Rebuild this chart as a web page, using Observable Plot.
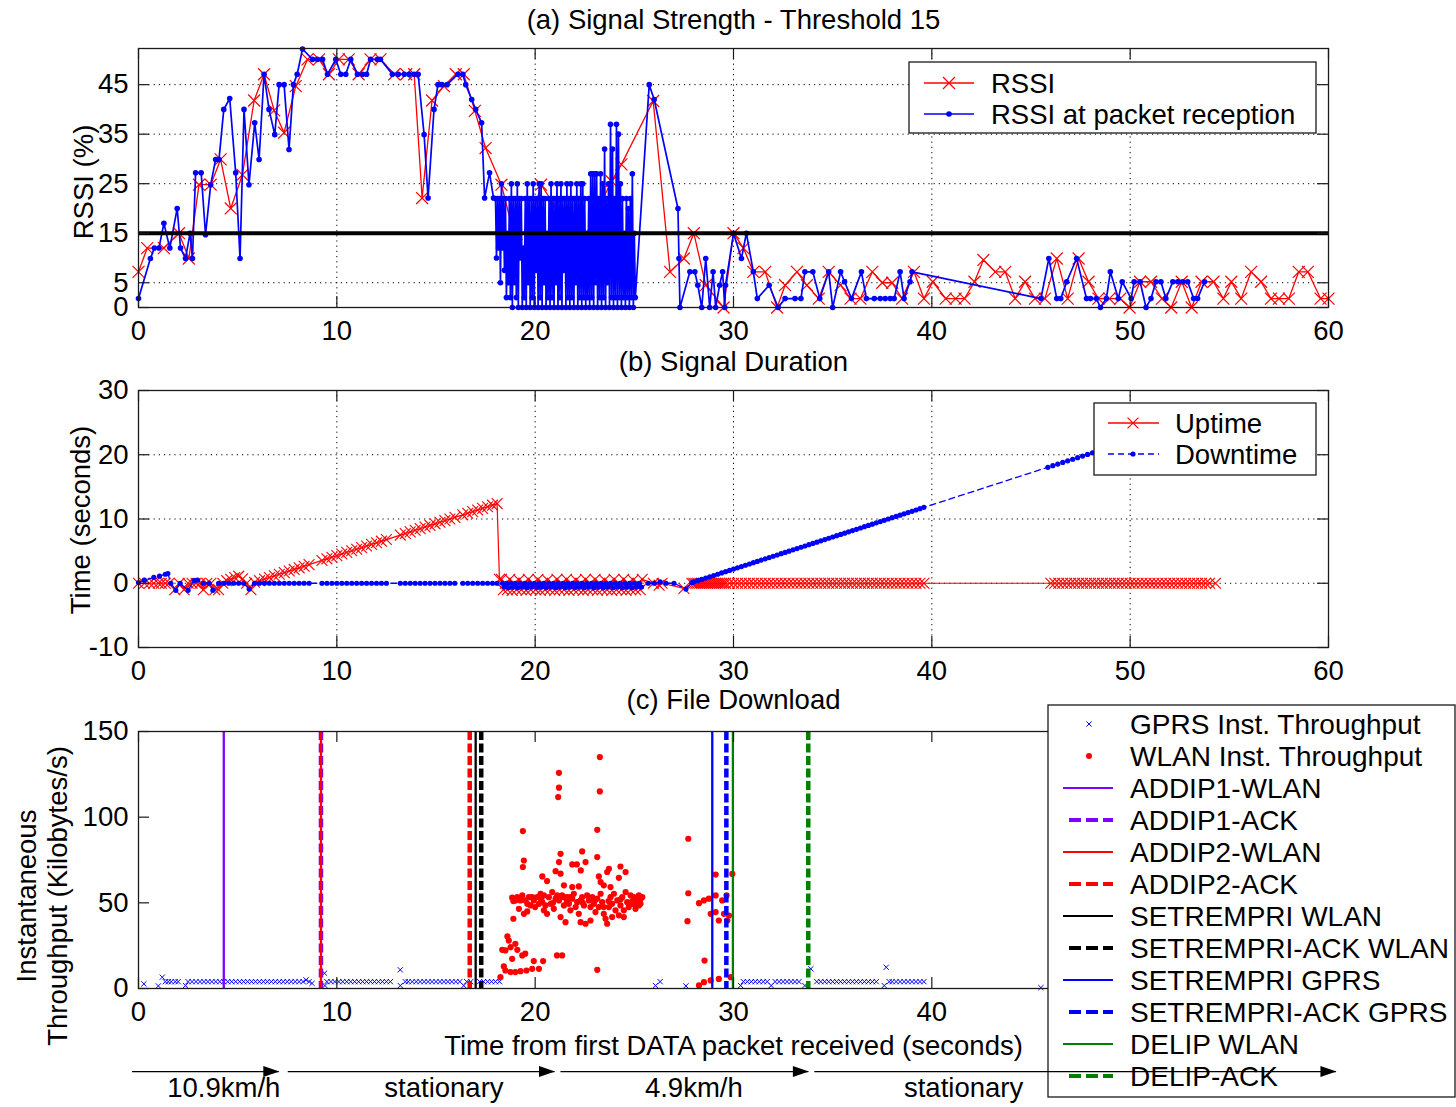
<!DOCTYPE html>
<html><head><meta charset="utf-8">
<script src="https://cdn.jsdelivr.net/npm/d3@7"></script>
<script src="https://cdn.jsdelivr.net/npm/@observablehq/plot@0.6"></script>
<style>
html,body{margin:0;padding:0;background:#fff;}
#root{position:relative;width:1456px;height:1107px;overflow:hidden;background:#fff;}
#root > svg{position:absolute;left:0;}
</style></head>
<body><div id="root"></div>
<script>
// ================= DATA =================
const xTicks = [0,10,20,30,40,50,60];
const cXLabels = [0,10,20,30,40];          // 50 and 60 sit under the legend
const gridX = [10,20,30,40,50];
const aYTicks = [0,5,15,25,35,45];
const aGridY = [5,15,25,35,45];
const bYTicks = [-10,0,10,20,30];
const bGridY = [0,10,20];
const cYTicks = [0,50,100,150];
const rssiThreshold = 15;

// (a) RSSI [time s, %]
const rssi = [[0,7.2],[0.44,12],[1.28,12],[2.04,15],[2.54,9.9],[3.05,24.8],[3.64,24.8],[4.14,29.9],[4.65,20],[5.24,26.8],[5.83,41.8],[6.33,47.1],[6.84,39.8],[7.34,35.3],[7.93,44.7],[8.52,50.1],[9.1,50.1],[9.6,47.1],[10.1,50.1],[10.6,50.1],[11.1,47.1],[11.7,50.1],[12.2,50.1],[12.9,47.1],[13.5,47.1],[13.9,47.1],[14.3,22.1],[14.8,41.8],[15.4,44.7],[16.0,47.1],[16.4,47.1],[16.96,39.7],[17.5,32.2],[18.3,24.8],[19.06,12.6],[19.4,11.5],[20.3,24.8],[20.99,20.5],[21.6,16.9],[22.4,13.2],[23.1,19.4],[23.85,25.5],[24.35,28.9],[25.95,41.7],[26.8,7.2],[27.5,9.9],[28.0,15],[28.6,4.5],[29.5,0],[30.0,15],[30.5,12],[31.0,7.2],[31.6,7.2],[32.2,0],[32.6,4.5],[33.2,7.2],[33.7,4.5],[34.3,1.8],[34.8,7.2],[35.4,4.5],[35.9,1.8],[36.4,1.8],[37.0,7.2],[37.5,5],[38.0,5],[38.5,1.8],[39.1,7.2],[39.6,1.8],[40.05,5.2],[40.7,1.8],[41.2,1.8],[41.65,1.8],[42.15,5.2],[42.6,9.6],[43.2,7.2],[43.7,7.2],[44.2,1.8],[44.7,5.2],[45.2,1.8],[45.7,1.8],[46.3,9.9],[46.85,1.8],[47.4,9.9],[47.9,5.2],[48.4,1.8],[48.95,1.8],[49.5,1.8],[49.97,0],[50.5,5.2],[51.05,5.2],[51.6,1.8],[52.07,0],[52.6,5.2],[53.1,0],[53.6,5.2],[54.2,5.2],[54.7,1.8],[55.1,5.2],[55.6,1.8],[56.1,7.2],[56.6,5.2],[57.1,1.8],[57.5,1.8],[58.0,1.8],[58.5,7.2],[58.96,7.2],[59.6,1.8],[60.0,1.8]];

// (a) RSSI at packet reception [time s, %]
const rssiRx = [[0,1.8],[0.6,9.9],[0.8,12],[1.03,12],[1.28,17],[1.58,12],[1.95,20],[2.12,12],[2.37,9.9],[2.6,15],[2.72,9.9],[2.88,27.2],[3.16,27.2],[3.38,14.7],[3.64,24.8],[3.89,29.9],[4.06,29.9],[4.3,40],[4.6,42.2],[4.9,27.2],[5.12,9.9],[5.32,40],[5.57,24.8],[5.86,37.3],[6.08,29.9],[6.33,47.1],[6.58,40],[6.87,34.9],[7.09,45],[7.34,45],[7.59,31.9],[7.81,45],[8.0,47.1],[8.27,52.2],[8.77,50.1],[9.02,50.1],[9.28,50.1],[9.53,47.1],[9.95,50.1],[10.2,47.1],[10.45,47.1],[10.7,50.1],[11.04,47.1],[11.3,47.1],[11.5,47.1],[11.7,50.1],[12.05,50.1],[12.2,50.1],[12.8,47.1],[13.1,47.1],[13.4,47.1],[13.65,47.1],[13.9,47.1],[14.1,47.1],[14.4,34.9],[14.6,22.1],[14.9,40],[15.1,45],[15.3,45],[15.56,45],[16.1,47.1],[16.35,47.1],[16.5,45],[16.8,42],[17.0,40],[17.3,37.3],[17.45,22.1],[17.7,27.2],[17.9,22.1],
[18.0,22],[18.05,10],[18.1,22],[18.15,12],[18.2,22],[18.25,5],[18.3,25],[18.35,12],[18.4,22],[18.45,7.5],[18.5,22],[18.55,2],[18.6,15],[18.65,5],[18.7,22],[18.75,2],[18.8,25],[18.85,0],[18.9,22],[18.95,5],[19.0,22],[19.05,2],[19.1,25],[19.15,0],[19.2,22],[19.25,10],[19.3,22],[19.35,0],[19.4,12],[19.45,2],[19.5,22],[19.55,0],[19.6,25],[19.65,5],[19.7,22],[19.75,0],[19.8,22],[19.85,2],[19.9,25],[19.95,0],[20.0,22],[20.05,7.5],[20.1,22],[20.15,0],[20.2,25],[20.25,2],[20.3,25],[20.35,0],[20.4,22],[20.45,5],[20.5,22],[20.55,0],[20.6,15],[20.65,2],[20.7,22],[20.75,0],[20.8,25],[20.85,2],[20.9,22],[20.95,0],[21.0,22],[21.05,5],[21.1,25],[21.15,0],[21.2,22],[21.25,2],[21.3,25],[21.35,0],[21.4,22],[21.45,7.5],[21.5,22],[21.55,0],[21.6,25],[21.65,2],[21.7,22],[21.75,0],[21.8,25],[21.85,2],[21.9,22],[21.95,0],[22.0,22],[22.05,5],[22.1,25],[22.15,0],[22.2,22],[22.25,2],[22.3,25],[22.35,0],[22.4,25],[22.45,2],[22.5,22],[22.55,0],[22.6,15],[22.65,2],[22.7,22],[22.75,0],[22.8,27],[22.85,2],[22.9,27],[22.95,0],[23.0,27],[23.05,5],[23.1,27],[23.15,0],[23.2,22],[23.25,2],[23.3,27],[23.35,0],[23.4,25],[23.45,2],[23.5,32],[23.55,0],[23.6,22],[23.65,5],[23.7,25],[23.75,0],[23.8,37],[23.85,2],[23.9,32],[23.95,0],[24.0,22],[24.05,2],[24.1,37],[24.15,0],[24.2,35],[24.25,2],[24.3,25],[24.35,0],[24.4,22],[24.45,2],[24.5,15],[24.55,0],[24.6,22],[24.65,2],[24.7,20],[24.75,0],[24.8,22],[24.85,2],[24.9,27],[24.95,0],[25.0,15],[25.05,2],
[25.75,45],[26.0,42],[27.2,20],[27.25,9.9],[27.3,0],[27.8,7.2],[28.05,7.2],[28.2,4.5],[28.4,0],[28.6,9.9],[28.8,0],[28.97,7.2],[29.1,0],[29.3,4.5],[29.45,7.2],[29.56,0],[29.6,4.5],[30.0,15],[30.4,9.9],[30.65,15],[31.0,7.2],[31.2,1.8],[31.8,4.5],[32.25,0],[32.6,1.8],[33.1,1.8],[33.4,1.8],[33.6,7.2],[34.0,7.2],[34.35,1.8],[34.8,7.2],[35.0,0],[35.4,7.2],[35.6,5.2],[35.95,1.8],[36.45,7.2],[36.7,1.8],[37.1,1.8],[37.4,1.8],[37.65,1.8],[37.9,1.8],[38.1,1.8],[38.4,7.2],[38.6,1.8],[38.9,5.2],[39.0,7.2],[45.5,1.8],[45.9,9.9],[46.3,1.8],[46.5,1.8],[46.8,5.2],[47.3,9.9],[47.8,1.8],[48.0,1.8],[48.3,1.8],[48.5,0],[48.8,1.8],[49.0,7.2],[49.4,1.8],[49.6,5.2],[50.05,1.8],[50.2,5.2],[50.5,5.2],[50.8,0],[51.05,1.8],[51.3,5.2],[51.55,5.2],[51.8,1.8],[52.15,5.2],[52.4,5.2],[52.65,5.2],[52.9,5.2],[53.2,1.8],[53.4,1.8],[53.75,5.2]];

// (b) Uptime [time s, seconds]
const uptime = [[0,0],[0.3,0],[0.55,0],[0.77,0],[1.0,0],[1.15,0],[1.35,0],[1.54,0],[1.83,-1],[2.05,0],[2.3,-1],[2.5,0],[2.7,0],[2.9,0],[3.1,0],[3.27,-1],[3.45,0],[3.65,0],[3.85,-1],[4.04,-1],[4.25,0],[4.45,0.4],[4.65,0.6],[4.85,0.9],[5.05,1.1],[5.25,0.7],[5.45,0],[5.67,-1],
[5.85,0.15],[6.1,0.4],[6.35,0.65],[6.6,0.9],[6.85,1.15],[7.1,1.4],[7.35,1.65],[7.6,1.9],[7.85,2.15],[8.1,2.4],[8.35,2.65],[8.6,2.9],[9.25,3.55],[9.5,3.8],[9.75,4.05],[10.0,4.3],[10.25,4.55],[10.5,4.8],[10.75,5.05],[11.0,5.3],[11.25,5.55],[11.5,5.8],[11.75,6.05],[12.0,6.3],[12.25,6.55],[12.5,6.8],[13.2,7.5],[13.45,7.75],[13.7,8.0],[13.95,8.25],[14.2,8.5],[14.45,8.75],[14.7,9.0],[14.95,9.25],[15.2,9.5],[15.45,9.75],[15.7,10.0],[15.95,10.25],[16.35,10.65],[16.6,10.9],[16.85,11.15],[17.1,11.4],[17.35,11.65],[17.6,11.9],[17.85,12.15],[18.08,12.4],[18.2,0.6],
[18.3,0.6],[18.4,-1],[18.5,0],[18.6,-1],[18.72,0.6],[18.84,-1.1],[18.95,0],[19.06,-1],[19.18,0.5],[19.3,-1],[19.42,0],[19.54,-1.1],[19.66,0.6],[19.78,-1],[19.9,0],[20.02,-1],[20.14,0.6],[20.26,-1.1],[20.38,0],[20.5,-1],[20.62,0.5],[20.74,-1],[20.86,0],[20.98,-1.1],[21.1,0.6],[21.22,-1],[21.34,0],[21.46,-1],[21.58,0.6],[21.7,-1.1],[21.82,0],[21.94,-1],[22.06,0.5],[22.18,-1],[22.3,0],[22.42,-1.1],[22.54,0.6],[22.66,-1],[22.78,0],[22.9,-1],[23.02,0.6],[23.14,-1.1],[23.26,0],[23.38,-1],[23.5,0.5],[23.62,-1],[23.74,0],[23.86,-1.1],[23.98,0.6],[24.1,-1],[24.22,0],[24.34,-1],[24.46,0.6],[24.58,-1.1],[24.7,0],[24.82,-1],[24.94,0.5],[25.06,-1],[25.18,0],[25.3,-1],[25.4,0.6],
[25.96,0],[26.25,-0.3],[26.4,0],[27.5,-0.8],[27.9,0],[28.0,0],[28.1,0],[28.2,0],[28.3,0],[28.4,0],[28.5,0],[28.6,0],[28.7,0],[28.8,0],[28.9,0],[29.0,0],[29.1,0],[29.2,0],[29.3,0],[29.4,0],[29.5,0],[29.6,0],[29.8,0],[30.0,0],[30.2,0],[30.4,0],[30.6,0],[30.8,0],[31.0,0],[31.2,0],[31.4,0],[31.6,0],[31.8,0],[32.0,0],[32.2,0],[32.4,0],[32.6,0],[32.8,0],[33.0,0],[33.2,0],[33.4,0],[33.6,0],[33.8,0],[34.0,0],[34.2,0],[34.4,0],[34.6,0],[34.8,0],[35.0,0],[35.2,0],[35.4,0],[35.6,0],[35.8,0],[36.0,0],[36.2,0],[36.4,0],[36.6,0],[36.8,0],[37.0,0],[37.2,0],[37.4,0],[37.6,0],[37.8,0],[38.0,0],[38.2,0],[38.4,0],[38.6,0],[38.8,0],[39.0,0],[39.2,0],[39.4,0],[39.6,0],
[46.0,0],[46.2,0],[46.4,0],[46.6,0],[46.8,0],[47.0,0],[47.2,0],[47.4,0],[47.6,0],[47.8,0],[48.0,0],[48.2,0],[48.4,0],[48.6,0],[48.8,0],[49.0,0],[49.2,0],[49.4,0],[49.6,0],[49.8,0],[50.0,0],[50.2,0],[50.4,0],[50.6,0],[50.8,0],[51.0,0],[51.2,0],[51.4,0],[51.6,0],[51.8,0],[52.0,0],[52.2,0],[52.4,0],[52.6,0],[52.8,0],[53.0,0],[53.2,0],[53.4,0],[53.6,0],[53.8,0],[54.0,0],[54.3,0]];

// (b) Downtime [time s, seconds]
const downtime = [[0,0.1],[0.3,0.5],[0.77,0.9],[1.06,1.1],[1.35,1.4],[1.48,1.5],[1.63,0],[1.88,-1.1],[2.1,0],[2.5,-1.1],[2.8,0.4],[2.98,0.5],[3.27,0],[3.56,0],[3.75,-1.1],[4.04,0],[4.3,0],[4.55,0],[4.8,0],[5.05,0],[5.3,0],[5.58,-0.9],[5.85,0],[6.1,0],[6.35,0],[6.6,0],[6.85,0],[7.1,0],[7.35,0],[7.6,0],[7.85,0],[8.1,0],[8.35,0],[8.6,0],[9.25,0],[9.5,0],[9.75,0],[10.0,0],[10.25,0],[10.5,0],[10.75,0],[11.0,0],[11.25,0],[11.5,0],[11.75,0],[12.0,0],[12.25,0],[12.5,0],[13.2,0],[13.45,0],[13.7,0],[13.95,0],[14.2,0],[14.45,0],[14.7,0],[14.95,0],[15.2,0],[15.45,0],[15.7,0],[15.95,0],[16.35,0],[16.6,0],[16.85,0],[17.1,0],[17.35,0],[17.6,0],[17.85,0],[18.08,0],
[18.35,0],[18.45,-0.6],[18.56,0],[18.66,-0.7],[18.78,0],[18.9,-0.6],[19.0,0],[19.12,-0.7],[19.24,0],[19.36,-0.6],[19.48,0],[19.6,-0.7],[19.72,0],[19.84,-0.6],[19.96,0],[20.08,-0.7],[20.2,0],[20.32,-0.6],[20.44,0],[20.56,-0.7],[20.68,0],[20.8,-0.6],[20.92,0],[21.04,-0.7],[21.16,0],[21.28,-0.6],[21.4,0],[21.52,-0.7],[21.64,0],[21.76,-0.6],[21.88,0],[22.0,-0.7],[22.12,0],[22.24,-0.6],[22.36,0],[22.48,-0.7],[22.6,0],[22.72,-0.6],[22.84,0],[22.96,-0.7],[23.08,0],[23.2,-0.6],[23.32,0],[23.44,-0.7],[23.56,0],[23.68,-0.6],[23.8,0],[23.92,-0.7],[24.04,0],[24.16,-0.6],[24.28,0],[24.4,-0.7],[24.52,0],[24.64,-0.6],[24.76,0],[24.88,-0.7],[25.0,0],[25.12,-0.6],[25.24,0],[25.36,-0.6],
[25.7,0],[26.0,0],[26.3,0.2],[26.6,0],[27.0,0],[27.6,-0.9],[27.9,0.1],
[28.0,0.2],[28.2,0.4],[28.4,0.6],[28.6,0.8],[28.8,1.0],[29.0,1.2],[29.2,1.4],[29.4,1.6],[29.6,1.8],[29.8,2.0],[30.0,2.2],[30.2,2.4],[30.4,2.6],[30.6,2.8],[30.8,3.0],[31.0,3.2],[31.2,3.4],[31.4,3.6],[31.6,3.8],[31.8,4.0],[32.0,4.2],[32.2,4.4],[32.4,4.6],[32.6,4.8],[32.8,5.0],[33.0,5.2],[33.2,5.4],[33.4,5.6],[33.6,5.8],[33.8,6.0],[34.0,6.2],[34.2,6.4],[34.4,6.6],[34.6,6.8],[34.8,7.0],[35.0,7.2],[35.2,7.4],[35.4,7.6],[35.6,7.8],[35.8,8.0],[36.0,8.2],[36.2,8.4],[36.4,8.6],[36.6,8.8],[36.8,9.0],[37.0,9.2],[37.2,9.4],[37.4,9.6],[37.6,9.8],[37.8,10.0],[38.0,10.2],[38.2,10.4],[38.4,10.6],[38.6,10.8],[38.8,11.0],[39.0,11.2],[39.2,11.4],[39.4,11.6],[39.6,11.8],
[45.85,18.05],[46.1,18.3],[46.35,18.55],[46.6,18.8],[46.85,19.05],[47.1,19.3],[47.35,19.55],[47.6,19.8],[47.85,20.05],[48.1,20.3],[48.3,20.5]];

// (c) GPRS instantaneous throughput [time s, KB/s]
const gprs = [[0.27,2.7],[1.0,1.5],[1.2,6.6],[1.35,4],[1.5,4],[1.65,4],[1.85,4],[2.0,4],[2.37,1.7],[2.5,4],[2.7,4],[2.9,4],[3.1,4],[3.3,4],[3.5,4],[3.7,4],[3.9,4],[4.1,4],[4.3,4],[4.5,4],[4.7,4],[4.9,4],[5.1,4],[5.3,4],[5.5,4],[5.7,4],[5.9,4],[6.1,4],[6.3,4],[6.5,4],[6.7,4],[6.9,4],[7.1,4],[7.3,4],[7.5,4],[7.7,4],[7.9,4],[8.1,4],[8.3,4],[8.45,5],[8.6,4],[8.75,3],[9.38,8.9],[9.4,1.7],[9.5,4],[9.7,4],[9.9,4],[10.1,4],[10.3,4],[10.5,4],[10.7,4],[10.9,4],[11.1,4],[11.3,4],[11.5,4],[11.7,4],[11.9,4],[12.1,4],[12.3,4],[12.5,4],[12.7,4],[13.2,10.9],[13.2,1.7],[13.45,4],[13.6,4],[13.8,4],[14.0,4],[14.2,4],[14.4,4],[14.6,4],[14.8,4],[15.0,4],[15.2,4],[15.4,4],[15.6,4],[15.8,4],[16.0,4],[16.2,4],[16.4,1.7],[16.55,4],[16.75,4],[17.2,4],[17.4,4],[17.6,4],[17.8,4],[18.0,4],[18.2,4],[26.07,1.7],[26.3,4],[27.6,1.5],[30.36,1.7],[30.5,4],[30.7,4],[30.9,4],[31.1,4],[31.3,4],[31.5,4],[31.7,4],[31.9,1.7],[32.1,4],[32.3,4],[32.5,4],[32.7,4],[32.9,4],[33.1,4],[33.3,4],[33.6,1.7],[33.9,11.5],[34.2,4],[34.4,4],[34.6,4],[34.8,4],[35.0,4],[35.2,4],[35.4,4],[35.6,4],[35.8,4],[36.0,4],[36.2,4],[36.4,4],[36.6,4],[36.8,4],[37.0,4],[37.2,4],[37.6,1.7],[37.7,12.4],[37.85,4],[38.0,4],[38.2,4],[38.4,4],[38.6,4],[38.8,4],[39.0,4],[39.2,4],[39.4,4],[39.6,4],[45.5,0.5]];

// (c) WLAN instantaneous throughput [time s, KB/s]
const wlan = [[18.25,6.6],[18.42,12.9],[18.5,10.5],[18.76,9.6],[19.0,9.6],[19.26,10.1],[19.56,10.5],[19.85,11.5],[20.19,11.5],[18.84,17.3],[18.34,22.6],[18.5,22.2],[18.76,24.1],[18.6,30.4],[18.67,28.0],[19.0,26.1],[19.1,22.6],[19.35,19.3],[19.5,20.3],[19.93,16.0],[20.4,16.0],[21.1,19.3],[21.36,19.3],[23.13,10.9],
[23.26,135.1],[21.2,125.9],[21.2,117.2],[21.16,111.7],[23.26,115.0],[19.38,91.9],[23.13,92.6],[21.28,78.6],[22.37,80.0],[19.43,74.7],[19.38,70.9],[21.2,73.8],[23.13,76.7],[22.54,73.8],[21.87,72.4],[22.1,72.4],[21.03,68.5],[21.28,67.0],[22.3,68.9],[20.36,65.4],[20.6,62.7],[21.45,60.2],[23.72,69.9],[23.63,68.0],[24.3,71.2],[24.56,68.0],[24.22,64.6],[23.21,65.4],[23.3,62.1],[23.46,60.2],[23.8,59.2],[21.87,59.2],[22.2,59.6],
[18.84,53],[19.1,53.3],[18.9,40.7],[19.35,54.3],[19.43,43.6],[19.18,46.5],[19.68,53.3],[19.77,48.5],[19.6,49.4],[19.93,51.4],[20.1,53.3],[20.0,47.5],[20.27,55.3],[20.36,50.4],[20.44,45.6],[20.52,48.5],[20.69,53.3],[20.78,49.4],[20.6,43.6],[20.86,56.3],[20.94,46.5],[21.03,52.4],[21.2,51.4],[21.28,41.7],[21.36,54.3],[21.45,48.5],[21.53,38.7],[21.62,53.3],[21.7,49.4],[21.78,45.6],[21.87,52.4],[21.95,55.3],[22.04,47.5],[22.12,50.4],[22.2,43.6],[22.29,38.7],[22.37,53.3],[22.46,48.5],[22.54,37.8],[22.62,54.3],[22.71,51.4],[22.79,47.5],[22.88,53.3],[22.96,49.4],[23.04,44.6],[23.13,52.4],[23.21,47.5],[23.3,55.3],[23.38,50.4],[23.46,43.6],[23.55,40.7],[23.63,37.8],[23.72,47.5],[23.8,53.3],[23.88,49.4],[23.97,55.3],[24.05,45.6],[24.14,51.4],[24.22,42.7],[24.3,48.5],[24.39,53.3],[24.47,45.6],[24.56,56.3],[24.64,50.4],[24.72,47.5],[24.81,54.3],[24.89,49.4],[24.98,53.3],[25.06,46.5],[25.14,51.4],[25.23,54.3],[25.31,49.4],[25.4,53.3],[25.23,48.5],[24.98,49.4],[24.47,41.7],[23.88,41.7],[23.46,47.5],[22.79,39.7],[22.29,51.4],[21.78,53.3],[21.45,53.3],[21.11,54.3],[20.44,54.3],[20.19,49.4],[19.85,53.3],[19.51,51.4],[19.26,51.4],[19.01,51.4],[18.9,51],[19.6,45],[20.3,52],[20.9,50],[21.6,51],[22.4,50],[23.0,51],[23.7,51],[24.3,52],[24.9,51],[25.3,52],
[27.72,87.4],[27.72,55.6],[27.68,39.3],[28.26,49.8],[28.51,51.4],[28.76,52.4],[29.1,66.5],[29.1,54.3],[28.85,43.6],[29.1,44.6],[29.26,39.7],[29.43,51.4],[29.65,54.3],[29.52,43.6],[29.69,39.7],[29.94,66.9],[29.77,42.6],[28.54,16.3],[28.26,1.8],[28.51,3.7],[28.85,4.7],[29.26,5.6],[29.86,6.6]];

// (c) signalling events [time s]
const eventNames = ["ADDIP1-WLAN","ADDIP1-ACK","ADDIP2-WLAN","ADDIP2-ACK","SETREMPRI WLAN","SETREMPRI-ACK WLAN","SETREMPRI GPRS","SETREMPRI-ACK GPRS","DELIP WLAN","DELIP-ACK"];
const eventTimes = [4.3, 9.2, 9.2, 16.7, 17.0, 17.28, 28.93, 29.64, 29.97, 33.77];

// mobility phases [time s]
const phaseLabels = ["10.9km/h","stationary","4.9km/h","stationary"];
const phaseStart = [-0.3, 7.55, 21.3, 34.1];
const phaseEnd = [7.1, 21.0, 33.8, 60.4];
const phaseLabelAt = [4.3, 15.4, 28.0, 41.6];

// ================= STYLE / LAYOUT =================
const FONT = '"Liberation Sans", Arial, Helvetica, sans-serif';
const FS = 27.5;
const AX = "#1a1a1a";
const W = 1456, ML = 138, MR = 128, PW = W - ML - MR;
const PURPLE = "#8000ff", GREEN = "#008000";
const eventStyle = [
  {color: PURPLE, dashed: false}, {color: PURPLE, dashed: true},
  {color: "red", dashed: false}, {color: "red", dashed: true},
  {color: "black", dashed: false}, {color: "black", dashed: true},
  {color: "blue", dashed: false}, {color: "blue", dashed: true},
  {color: GREEN, dashed: false}, {color: GREEN, dashed: true}
];
const baseStyle = {fontFamily: FONT, fontSize: FS + "px", color: "#000", background: "transparent", overflow: "visible"};
const fmt = d => String(d);

function boxMarks(xt, yt, ph, xl = xt, len = 11) {
  return [
    Plot.tickX(xt, {x: d => d, insetTop: ph - len, stroke: AX, strokeWidth: 1.2}),
    Plot.tickX(xt, {x: d => d, insetBottom: ph - len, stroke: AX, strokeWidth: 1.2}),
    Plot.tickY(yt, {y: d => d, insetRight: PW - len, stroke: AX, strokeWidth: 1.2}),
    Plot.tickY(yt, {y: d => d, insetLeft: PW - len, stroke: AX, strokeWidth: 1.2}),
    Plot.frame({stroke: AX, strokeWidth: 1.3}),
    Plot.axisX(xl, {tickSize: 0, tickPadding: 13, tickFormat: fmt, label: null}),
    Plot.axisY(yt, {tickSize: 0, tickPadding: 10, tickFormat: fmt, label: null})
  ];
}
const title = (t, dy) => Plot.text([t], {text: d => d, frameAnchor: "top", dy, lineAnchor: "middle", textAnchor: "middle"});
const ylab = (t, dx, dy) => Plot.text([t], {text: d => d, frameAnchor: "left", rotate: -90, dx, dy, lineAnchor: "middle", textAnchor: "middle"});

function drawLegend(svg, box, o, items) {
  const g = d3.select(svg).append("g");
  g.append("rect").attr("x", box.x).attr("y", box.y).attr("width", box.w).attr("height", box.h)
    .attr("fill", "#fff").attr("stroke", AX).attr("stroke-width", 1.3);
  items.forEach((it, i) => {
    const cy = box.y + o.row0 + i * o.gap;
    if (it.line) {
      g.append("line").attr("x1", box.x + (it.thick ? o.dx1 : o.x1)).attr("x2", box.x + o.x2)
        .attr("y1", cy).attr("y2", cy).attr("stroke", it.color).attr("stroke-width", it.width)
        .attr("stroke-dasharray", it.dash || null);
    }
    if (it.marker) {
      const sym = it.marker === "x" ? d3.symbolTimes : d3.symbolCircle;
      const p = g.append("path").attr("transform", `translate(${box.x + o.mx},${cy})`)
        .attr("d", d3.symbol(sym, Math.PI * it.r * it.r)());
      if (it.marker === "x") p.attr("fill", "none").attr("stroke", it.color).attr("stroke-width", it.sw || 1.2);
      else p.attr("fill", it.color);
    }
    g.append("text").attr("x", box.x + o.tx).attr("y", cy).attr("dy", "0.36em")
      .attr("text-anchor", "start").attr("font-size", o.fs).attr("fill", "#000")
      .attr("font-family", FONT).text(it.label);
  });
}

const root = document.getElementById("root");

// ---------- Panel (a) ----------
{
  const H = 345, MT = 48, MB = 38, PH = H - MT - MB;
  const svg = Plot.plot({
    width: W, height: H, marginLeft: ML, marginRight: MR, marginTop: MT, marginBottom: MB,
    x: {domain: [0, 60]}, y: {domain: [0, 52.3]},
    style: baseStyle,
    marks: [
      Plot.ruleX(gridX, {x: d => d, stroke: "#000", strokeWidth: 1, strokeDasharray: "1.2,4"}),
      Plot.ruleY(aGridY, {y: d => d, stroke: "#000", strokeWidth: 1, strokeDasharray: "1.2,4"}),
      Plot.line(rssi, {x: d => d[0], y: d => d[1], stroke: "red", strokeWidth: 1.3}),
      Plot.dot(rssi, {x: d => d[0], y: d => d[1], symbol: "times", r: 5.5, stroke: "red", strokeWidth: 1.2, fill: "none"}),
      Plot.line(rssiRx, {x: d => d[0], y: d => d[1], stroke: "blue", strokeWidth: 1.7}),
      Plot.dot(rssiRx, {x: d => d[0], y: d => d[1], r: 2.8, fill: "blue"}),
      Plot.ruleY([rssiThreshold], {y: d => d, stroke: "#000", strokeWidth: 4}),
      ...boxMarks(xTicks, aYTicks, PH),
      title("(a) Signal Strength - Threshold 15", -28),
      ylab("RSSI (%)", -54, 4)
    ]
  });
  drawLegend(svg, {x: 909, y: 62, w: 407, h: 71}, {row0: 21, gap: 31, x1: 15, dx1: 15, x2: 65, mx: 40, tx: 82, fs: FS}, [
    {label: "RSSI", line: true, color: "red", width: 1.3, marker: "x", r: 5.5},
    {label: "RSSI at packet reception", line: true, color: "blue", width: 1.5, marker: "dot", r: 2.8}
  ]);
  svg.style.top = "0px";
  root.appendChild(svg);
}

// ---------- Panel (b) ----------
{
  const TOP = 345, H = 340, MT = 45, MB = 38, PH = H - MT - MB;
  const svg = Plot.plot({
    width: W, height: H, marginLeft: ML, marginRight: MR, marginTop: MT, marginBottom: MB,
    x: {domain: [0, 60]}, y: {domain: [-10, 30]},
    style: baseStyle,
    marks: [
      Plot.ruleX(gridX, {x: d => d, stroke: "#000", strokeWidth: 1, strokeDasharray: "1.2,4"}),
      Plot.ruleY(bGridY, {y: d => d, stroke: "#000", strokeWidth: 1, strokeDasharray: "1.2,4"}),
      Plot.line(uptime, {x: d => d[0], y: d => d[1], stroke: "red", strokeWidth: 1.2}),
      Plot.dot(uptime, {x: d => d[0], y: d => d[1], symbol: "times", r: 5, stroke: "red", strokeWidth: 1.1, fill: "none"}),
      Plot.line(downtime, {x: d => d[0], y: d => d[1], stroke: "blue", strokeWidth: 1.3, strokeDasharray: "6,4"}),
      Plot.dot(downtime, {x: d => d[0], y: d => d[1], r: 2.6, fill: "blue"}),
      ...boxMarks(xTicks, bYTicks, PH),
      title("(b) Signal Duration", -28),
      ylab("Time (seconds)", -57, 1)
    ]
  });
  drawLegend(svg, {x: 1094, y: 403 - TOP, w: 222, h: 72}, {row0: 20, gap: 31, x1: 14, dx1: 14, x2: 65, mx: 39, tx: 81, fs: FS}, [
    {label: "Uptime", line: true, color: "red", width: 1.3, marker: "x", r: 5},
    {label: "Downtime", line: true, color: "blue", width: 1.3, dash: "6,4", marker: "dot", r: 2.6}
  ]);
  svg.style.top = TOP + "px";
  root.appendChild(svg);
}

// ---------- Panel (c) ----------
{
  const TOP = 685, H = 422, MT = 46, MB = 119, PH = H - MT - MB;
  const svg = Plot.plot({
    width: W, height: H, marginLeft: ML, marginRight: MR, marginTop: MT, marginBottom: MB,
    x: {domain: [0, 60]}, y: {domain: [0, 150]},
    style: baseStyle,
    marks: [
      Plot.dot(gprs, {x: d => d[0], y: d => d[1], symbol: "times", r: 2.5, stroke: "blue", strokeWidth: 1, fill: "none"}),
      Plot.dot(wlan, {x: d => d[0], y: d => d[1], r: 3.1, fill: "red"}),
      Plot.ruleX(eventNames, {filter: (d, i) => eventStyle[i].dashed, x: (d, i) => eventTimes[i],
        stroke: (d, i) => eventStyle[i].color, strokeWidth: 4.5, strokeDasharray: "9,3.5"}),
      Plot.ruleX(eventNames, {filter: (d, i) => !eventStyle[i].dashed, x: (d, i) => eventTimes[i],
        stroke: (d, i) => eventStyle[i].color, strokeWidth: 2.3}),
      ...boxMarks(xTicks, cYTicks, PH, cXLabels),
      title("(c) File Download", -31),
      ylab("Instantaneous", -111, 36),
      ylab("Throughput (Kilobytes/s)", -80, 36),
      Plot.text(["Time from first DATA packet received (seconds)"], {text: d => d, frameAnchor: "bottom", dy: 58, lineAnchor: "middle", textAnchor: "middle"})
    ]
  });
  const items = [
    {label: "GPRS Inst. Throughput", color: "blue", marker: "x", r: 2.5, sw: 1},
    {label: "WLAN Inst. Throughput", color: "red", marker: "dot", r: 3}
  ].concat(eventNames.map((n, i) => ({label: n, line: true, color: eventStyle[i].color,
    dash: eventStyle[i].dashed ? "12,5" : null, thick: eventStyle[i].dashed, width: eventStyle[i].dashed ? 4 : 2})));
  drawLegend(svg, {x: 1048, y: 705 - TOP, w: 407, h: 392}, {row0: 19, gap: 32, x1: 15, dx1: 21, x2: 65, mx: 41, tx: 82, fs: 28}, items);
  svg.style.top = TOP + "px";
  root.appendChild(svg);
}

// ---------- Mobility arrows (overlay) ----------
{
  const TOP = 1045, H = 62;
  const head = {draw(ctx) { ctx.moveTo(0, 0); ctx.lineTo(-16, -5.5); ctx.lineTo(-16, 5.5); ctx.closePath(); }};
  const svg = Plot.plot({
    width: W, height: H, marginLeft: ML, marginRight: MR, marginTop: 0, marginBottom: 0,
    x: {domain: [0, 60], axis: null}, y: {domain: [0, 1], axis: null},
    style: baseStyle,
    marks: [
      Plot.ruleY(phaseLabels, {x1: (d, i) => phaseStart[i], x2: (d, i) => phaseEnd[i], y: () => 0.58, stroke: "#000", strokeWidth: 1.3}),
      Plot.dot(phaseLabels, {x: (d, i) => phaseEnd[i], y: () => 0.58, symbol: head, r: 5, fill: "#000", stroke: "none"}),
      Plot.text(phaseLabels, {x: (d, i) => phaseLabelAt[i], y: () => 0.306, text: d => d})
    ]
  });
  svg.style.top = TOP + "px";
  root.appendChild(svg);
}
</script>
</body></html>
